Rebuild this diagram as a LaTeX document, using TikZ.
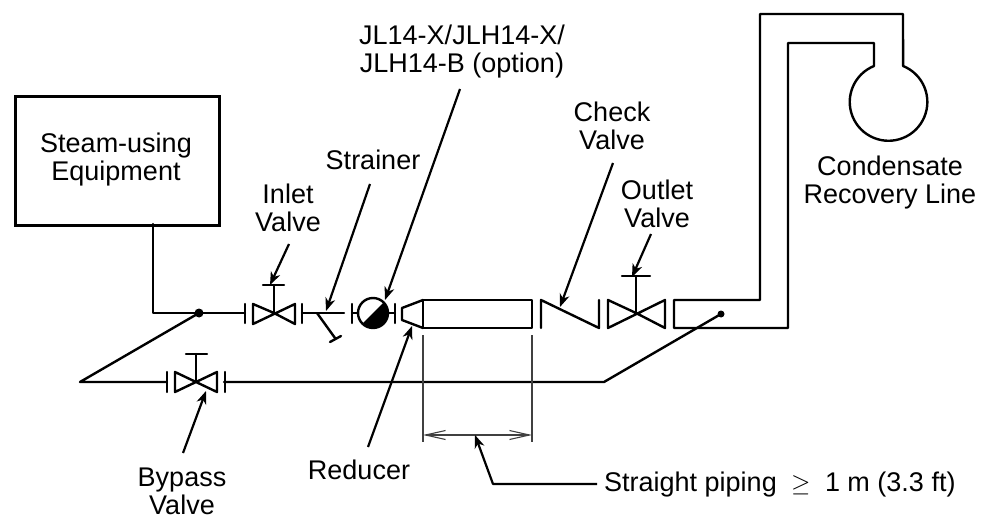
\documentclass[tikz,border=0pt]{standalone}
\usepackage{fontspec}
\setmainfont{Liberation Sans}
\usetikzlibrary{arrows.meta}
\tikzset{
  pipe/.style={line width=2.4pt,line cap=round,line join=round},
  thin line/.style={line width=1.1pt,black!75},
  leader/.style={line width=2.2pt,line join=round,-{Stealth[length=13pt,width=10pt,inset=4pt]}},
  lbl/.style={font=\fontsize{27}{28}\selectfont,align=center,inner sep=0pt},
  dotn/.style={circle,fill=black,inner sep=0pt,minimum size=9pt}
}
\begin{document}
\begin{tikzpicture}[x=1pt,y=-1pt]
\useasboundingbox (0,0) rectangle (981,518);
% equipment
\node[draw,line width=2.6pt,minimum width=204pt,minimum height=129pt,anchor=north west,inner sep=0pt] (eq) at (14,95) {};
\node[lbl] (eqt) at (116,160) {Steam-using\\Equipment};
\coordinate (eqb) at (153,224);
\coordinate (c1) at (153,313);
\node[dotn] (d1) at (199,313) {};
\coordinate (f1) at (245,313);
\draw[pipe] (eqb) -- (c1) -- (d1.center) -- (f1);
\draw[pipe] (245,304) -- (245,323);
% inlet valve
\draw[pipe] (274,313) -- (253,304) -- (253,324) -- (295,304) -- (295,324) -- cycle;
\draw[pipe] (274,313) -- (274,285);
\draw[pipe] (263,285) -- (284,285);
% strainer
\draw[pipe] (302,304) -- (302,323);
\draw[pipe] (302,313) -- (344,313);
\draw[pipe] (317,313) -- (335,338);
\draw[pipe] (330,342) -- (341,336);
\draw[pipe] (352,304) -- (352,323);
\draw[pipe] (352,313) -- (358,313);
\node[circle,draw,line width=2.4pt,minimum size=30pt,inner sep=0pt] (trap) at (373,313) {};
\fill (383.6,302.4) arc (-45:135:15) -- cycle;
\draw[pipe] (388,313) -- (395,313);
\draw[pipe] (395,304) -- (395,323);
% reducer and straight pipe
\draw[pipe] (423,300) -- (402,308) -- (402,320) -- (423,328);
\draw[pipe] (423,300) -- (423,328);
\draw[pipe] (423,300) -- (532,300) -- (532,328) -- (423,328);
% check valve
\draw[pipe] (541,328) -- (541,300) -- (599,328) -- (599,300);
% outlet valve
\draw[pipe] (636,313) -- (608,300) -- (608,328) -- (665,300) -- (665,328) -- cycle;
\draw[pipe] (636,313) -- (636,276);
\draw[pipe] (622,276) -- (650,276);
% condensate line
\draw[pipe] (721,314) -- (604,382) -- (224,382);
\node[dotn,minimum size=7pt] (d2) at (721,314) {};
\draw[pipe] (674,300) -- (674,328) -- (788,328) -- (788,43) -- (874,43) -- (874,66)
  arc (248:-68:38.8) -- (903,14) -- (760,14) -- (760,300) -- cycle;
% bypass
\draw[pipe] (d1.center) -- (80,382) -- (167,382);
\draw[pipe] (167,372) -- (167,392);
\draw[pipe] (196,382) -- (175,372) -- (175,392) -- (217,372) -- (217,392) -- cycle;
\draw[pipe] (196,382) -- (196,354);
\draw[pipe] (186,354) -- (207,354);
\draw[pipe] (225,372) -- (225,392);
% dimension
\draw[thin line] (423,335) -- (423,442);
\draw[thin line] (532,335) -- (532,442);
\draw[thin line,{Straight Barb[length=20pt,width=9pt]}-{Straight Barb[length=20pt,width=9pt]}] (423,435) -- (532,435);
% labels
\node[lbl] (t1) at (462,52) {JL14-X/JLH14-X/\\JLH14-B (option)};
\node[lbl] (t2) at (373,160) {Strainer};
\node[lbl] (t3) at (288,208) {Inlet\\Valve};
\node[lbl] (t4) at (612,126) {Check\\Valve};
\node[lbl] (t5) at (657,204) {Outlet\\Valve};
\node[lbl] (t6) at (890,183) {Condensate\\Recovery Line};
\node[lbl] (t7) at (182,491) {Bypass\\Valve};
\node[lbl] (t8) at (359,470) {Reducer};
\node[lbl,anchor=west] (t9) at (604,485) {Straight piping ${}\geq{}$ 1 m (3.3 ft)};
% leaders
\draw[leader] (460,89) -- (385,300);
\draw[leader] (370,184) -- (326,311);
\draw[leader] (289,244) -- (270,285);
\draw[leader] (613,163) -- (560,307);
\draw[leader] (651,234) -- (632,277);
\draw[leader] (183,453) -- (206,391);
\draw[leader] (368,447) -- (412,326);
\draw[leader] (597,484) -- (493,484) -- (475,435);
\end{tikzpicture}
\end{document}
